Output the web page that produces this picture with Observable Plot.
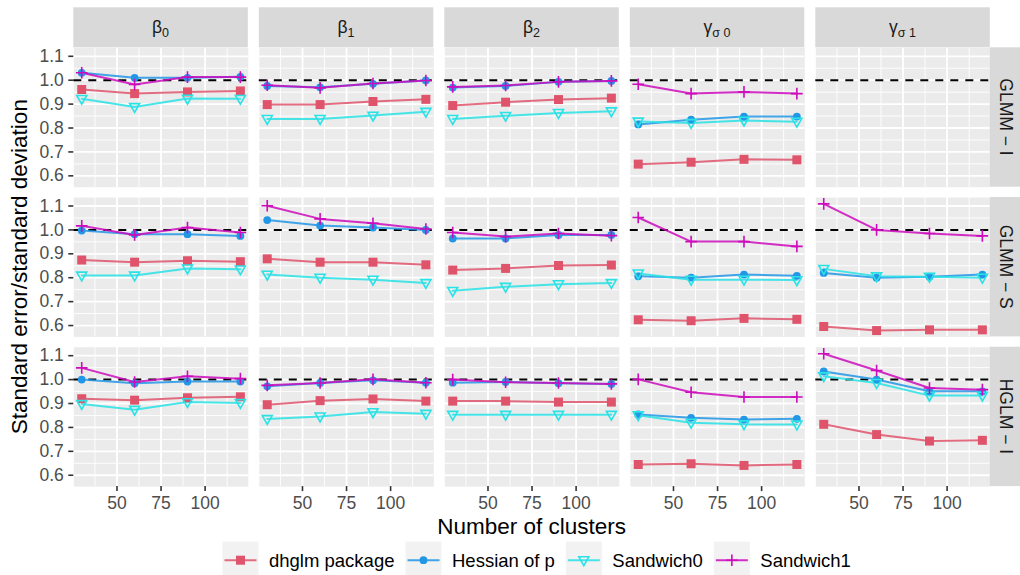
<!DOCTYPE html>
<html><head><meta charset="utf-8">
<script src="https://cdn.jsdelivr.net/npm/d3@7"></script>
<script src="https://cdn.jsdelivr.net/npm/@observablehq/plot@0.6"></script>
<style>
html,body{margin:0;padding:0;background:#fff;}
#chart{width:1020px;height:575px;}
</style></head><body><div id="chart"></div>
<script>
// ---------- data ----------
const clusters = [30, 60, 90, 120];
const paramMain = ["β", "β", "β", "γ", "γ"];
const paramSub = ["0", "1", "2", "σ 0", "σ 1"];
const models = ["GLMM − I", "GLMM − S", "HGLM − I"];
const methods = ["dhglm package", "Hessian of p", "Sandwich0", "Sandwich1"];
const methodColors = ["#DF536B", "#2297E6", "#28E2E5", "#CD0BBC"];
const xTicks = [50, 75, 100];
const xMinor = [37.5, 62.5, 87.5, 112.5];
const yTicks = [0.6, 0.7, 0.8, 0.9, 1.0, 1.1];
const yMinor = [0.65, 0.75, 0.85, 0.95, 1.05];
const reference = [1];

// each array: one entry per parameter (β0, β1, β2, γσ0, γσ1), values at 30/60/90/120 clusters
const glmmI_dhglm   = [[0.961,0.944,0.951,0.955],[0.898,0.898,0.911,0.920],[0.894,0.908,0.919,0.925],[0.649,0.657,0.669,0.667],null];
const glmmI_hessian = [[1.031,1.010,1.010,1.014],[0.976,0.970,0.985,0.999],[0.969,0.976,0.993,0.997],[0.815,0.835,0.848,0.848],null];
const glmmI_sw0     = [[0.922,0.888,0.923,0.922],[0.838,0.838,0.852,0.868],[0.838,0.851,0.863,0.870],[0.827,0.821,0.831,0.826],null];
const glmmI_sw1     = [[1.031,0.982,1.013,1.013],[0.979,0.968,0.986,0.999],[0.972,0.978,0.993,0.997],[0.983,0.944,0.951,0.944],null];

const glmmS_dhglm   = [[0.874,0.865,0.871,0.867],[0.879,0.865,0.865,0.854],[0.832,0.839,0.851,0.853],[0.624,0.620,0.630,0.626],[0.596,0.579,0.582,0.582]];
const glmmS_hessian = [[0.997,0.982,0.982,0.975],[1.041,1.018,1.010,1.000],[0.964,0.964,0.979,0.979],[0.806,0.800,0.813,0.808],[0.820,0.800,0.804,0.813]];
const glmmS_sw0     = [[0.809,0.809,0.839,0.835],[0.813,0.800,0.792,0.778],[0.745,0.762,0.773,0.778],[0.818,0.792,0.792,0.790],[0.837,0.806,0.804,0.800]];
const glmmS_sw1     = [[1.017,0.979,1.010,0.989],[1.101,1.046,1.028,1.004],[0.989,0.972,0.985,0.976],[1.052,0.951,0.951,0.931],[1.109,1.000,0.985,0.975]];

const hglmI_dhglm   = [[0.920,0.914,0.924,0.928],[0.895,0.912,0.919,0.910],[0.910,0.910,0.906,0.906],[0.645,0.648,0.641,0.645],[0.813,0.770,0.743,0.746]];
const hglmI_hessian = [[1.000,0.985,0.992,0.992],[0.972,0.986,0.997,0.987],[0.987,0.990,0.985,0.982],[0.854,0.840,0.833,0.836],[1.034,1.000,0.951,0.951]];
const hglmI_sw0     = [[0.898,0.874,0.906,0.902],[0.835,0.846,0.864,0.857],[0.853,0.853,0.853,0.853],[0.851,0.820,0.813,0.812],[1.014,0.986,0.933,0.933]];
const hglmI_sw1     = [[1.049,0.990,1.014,1.004],[0.976,0.986,1.001,0.987],[1.000,0.989,0.986,0.982],[1.001,0.947,0.927,0.927],[1.108,1.038,0.965,0.958]];

const series = [
  [glmmI_dhglm, glmmI_hessian, glmmI_sw0, glmmI_sw1],
  [glmmS_dhglm, glmmS_hessian, glmmS_sw0, glmmS_sw1],
  [hglmI_dhglm, hglmI_hessian, hglmI_sw0, hglmI_sw1]
];

// tidy table
const rows = [];
series.forEach((bym, r) => bym.forEach((arr, k) => arr.forEach((vals, p) => {
  if (!vals) return;
  vals.forEach((v, i) => rows.push({model: models[r], param: p, method: methods[k], n: clusters[i], v}));
})));

// ggplot-like 5% expansion
function expand(ext) { const d = (ext[1] - ext[0]) * 0.05; return [ext[0] - d, ext[1] + d]; }
const xDomain = expand(d3.extent(clusters));
const yDomain = expand(d3.extent(rows, d => d.v));

// ---------- symbols ----------
const symSquare = {draw(ctx) { ctx.rect(-4.5, -4.5, 9, 9); }};
const symCircle = {draw(ctx) { ctx.moveTo(3.9, 0); ctx.arc(0, 0, 3.9, 0, 2 * Math.PI); }};
const symTriDown = {draw(ctx) { ctx.moveTo(-5, -3.4); ctx.lineTo(5, -3.4); ctx.lineTo(0, 5.4); ctx.closePath(); }};
const symPlus = {draw(ctx) { ctx.moveTo(-5.8, 0); ctx.lineTo(5.8, 0); ctx.moveTo(0, -5.8); ctx.lineTo(0, 5.8); }};
const methodSymbols = [symSquare, symCircle, symTriDown, symPlus];
const methodFilled = [true, true, false, false];

// ---------- layout ----------
const FONT = "'Liberation Sans', Arial, Helvetica, sans-serif";
const W = 1020, H = 575;
const G = {left: 73.3, top: 47.3, colStep: 185.5, rowStep: 149.7, pw: 174.5, ph: 139.4, stripTop: 7.3, stripH: 40};

const svg = d3.select("#chart").append("svg")
  .attr("width", W).attr("height", H).attr("viewBox", `0 0 ${W} ${H}`)
  .style("font-family", FONT).style("background", "#fff");

const colorScale = {domain: methods, range: methodColors};

for (let r = 0; r < models.length; r++) {
  for (let c = 0; c < paramMain.length; c++) {
    const ml = c === 0 ? G.left : 0;
    const mb = r === models.length - 1 ? 32 : 0;
    const w = ml + G.pw, h = G.ph + mb;
    const data = rows.filter(d => d.model === models[r] && d.param === c);
    const marks = [
      Plot.frame({fill: "#EBEBEB", stroke: "none"}),
      Plot.ruleX(xMinor, {stroke: "white", strokeWidth: 0.9}),
      Plot.ruleY(yMinor, {stroke: "white", strokeWidth: 0.9}),
      Plot.ruleX(xTicks, {stroke: "white", strokeWidth: 1.8}),
      Plot.ruleY(yTicks, {stroke: "white", strokeWidth: 1.8}),
      Plot.ruleY(reference, {stroke: "black", strokeWidth: 2, strokeDasharray: "8,7"}),
      Plot.line(data, {x: "n", y: "v", z: "method", stroke: "method", strokeWidth: 2, strokeOpacity: 0.85})
    ];
    methods.forEach((m, k) => {
      const sub = data.filter(d => d.method === m);
      marks.push(Plot.dot(sub, methodFilled[k]
        ? {x: "n", y: "v", symbol: methodSymbols[k], fill: "method", stroke: "none"}
        : {x: "n", y: "v", symbol: methodSymbols[k], fill: "none", stroke: "method", strokeWidth: 1.6}));
    });
    if (c === 0) marks.push(Plot.axisY({ticks: yTicks, tickFormat: d3.format(".1f"), tickSize: 5, tickPadding: 5,
      stroke: "#333333", strokeWidth: 1.6, fill: "#4D4D4D", label: null}));
    if (r === models.length - 1) marks.push(Plot.axisX({ticks: xTicks, tickFormat: d3.format("d"), tickSize: 5, tickPadding: 5,
      stroke: "#333333", strokeWidth: 1.6, fill: "#4D4D4D", label: null}));
    const node = Plot.plot({
      width: w, height: h,
      marginLeft: ml, marginRight: 0, marginTop: 0, marginBottom: mb,
      x: {domain: xDomain, axis: null, label: null},
      y: {domain: yDomain, axis: null, label: null},
      color: colorScale,
      style: {width: w + "px", height: h + "px", maxWidth: "none", overflow: "visible", background: "none",
        fontFamily: FONT, fontSize: "17.5px"},
      marks
    });
    node.setAttribute("x", G.left + c * G.colStep - ml);
    node.setAttribute("y", G.top + r * G.rowStep);
    svg.node().appendChild(node);
  }
}

// ---------- strips ----------
for (let c = 0; c < paramMain.length; c++) {
  const x0 = G.left + c * G.colStep;
  svg.append("rect").attr("x", x0).attr("y", G.stripTop).attr("width", G.pw).attr("height", G.stripH).attr("fill", "#D9D9D9");
  const t = svg.append("text").attr("x", x0 + G.pw / 2).attr("y", 33).attr("text-anchor", "middle")
    .attr("font-size", 17.5).attr("fill", "#1A1A1A");
  t.append("tspan").text(paramMain[c]);
  t.append("tspan").attr("font-size", 12.5).attr("dy", 4).text(paramSub[c]);
}
const stripX = G.left + 4 * G.colStep + G.pw;
for (let r = 0; r < models.length; r++) {
  const y0 = G.top + r * G.rowStep;
  svg.append("rect").attr("x", stripX).attr("y", y0).attr("width", W - stripX).attr("height", G.ph).attr("fill", "#D9D9D9");
  svg.append("text").attr("transform", `translate(${stripX + 10},${y0 + G.ph / 2}) rotate(90)`)
    .attr("text-anchor", "middle").attr("font-size", 17.5).attr("fill", "#1A1A1A").text(models[r]);
}

// ---------- titles ----------
const panelsMidX = (G.left + stripX) / 2;
const panelsMidY = (G.top + G.top + 2 * G.rowStep + G.ph) / 2;
svg.append("text").attr("x", panelsMidX).attr("y", 534).attr("text-anchor", "middle")
  .attr("font-size", 22.5).attr("fill", "#000").text("Number of clusters");
svg.append("text").attr("transform", `translate(27,${panelsMidY}) rotate(-90)`).attr("text-anchor", "middle")
  .attr("font-size", 22.5).attr("fill", "#000").text("Standard error/standard deviation");

// ---------- legend ----------
let lx = 222.5;
const ly = 541.7, kw = 36, kh = 34;
methods.forEach((m, k) => {
  svg.append("rect").attr("x", lx).attr("y", ly).attr("width", kw).attr("height", kh).attr("fill", "#F2F2F2");
  const cy = ly + 18.5;
  svg.append("line").attr("x1", lx + 2).attr("x2", lx + kw - 2).attr("y1", cy).attr("y2", cy)
    .attr("stroke", methodColors[k]).attr("stroke-width", 2).attr("stroke-opacity", 0.85);
  const p = svg.append("path").attr("d", d3.symbol(methodSymbols[k])()).attr("transform", `translate(${lx + kw / 2},${cy})`);
  if (methodFilled[k]) p.attr("fill", methodColors[k]);
  else p.attr("fill", "none").attr("stroke", methodColors[k]).attr("stroke-width", 1.6);
  const t = svg.append("text").attr("x", lx + kw + 10.5).attr("y", cy + 6.5).attr("font-size", 18.5).attr("fill", "#000").text(m);
  lx += kw + 10.5 + t.node().getComputedTextLength() + 11;
});
</script></body></html>
